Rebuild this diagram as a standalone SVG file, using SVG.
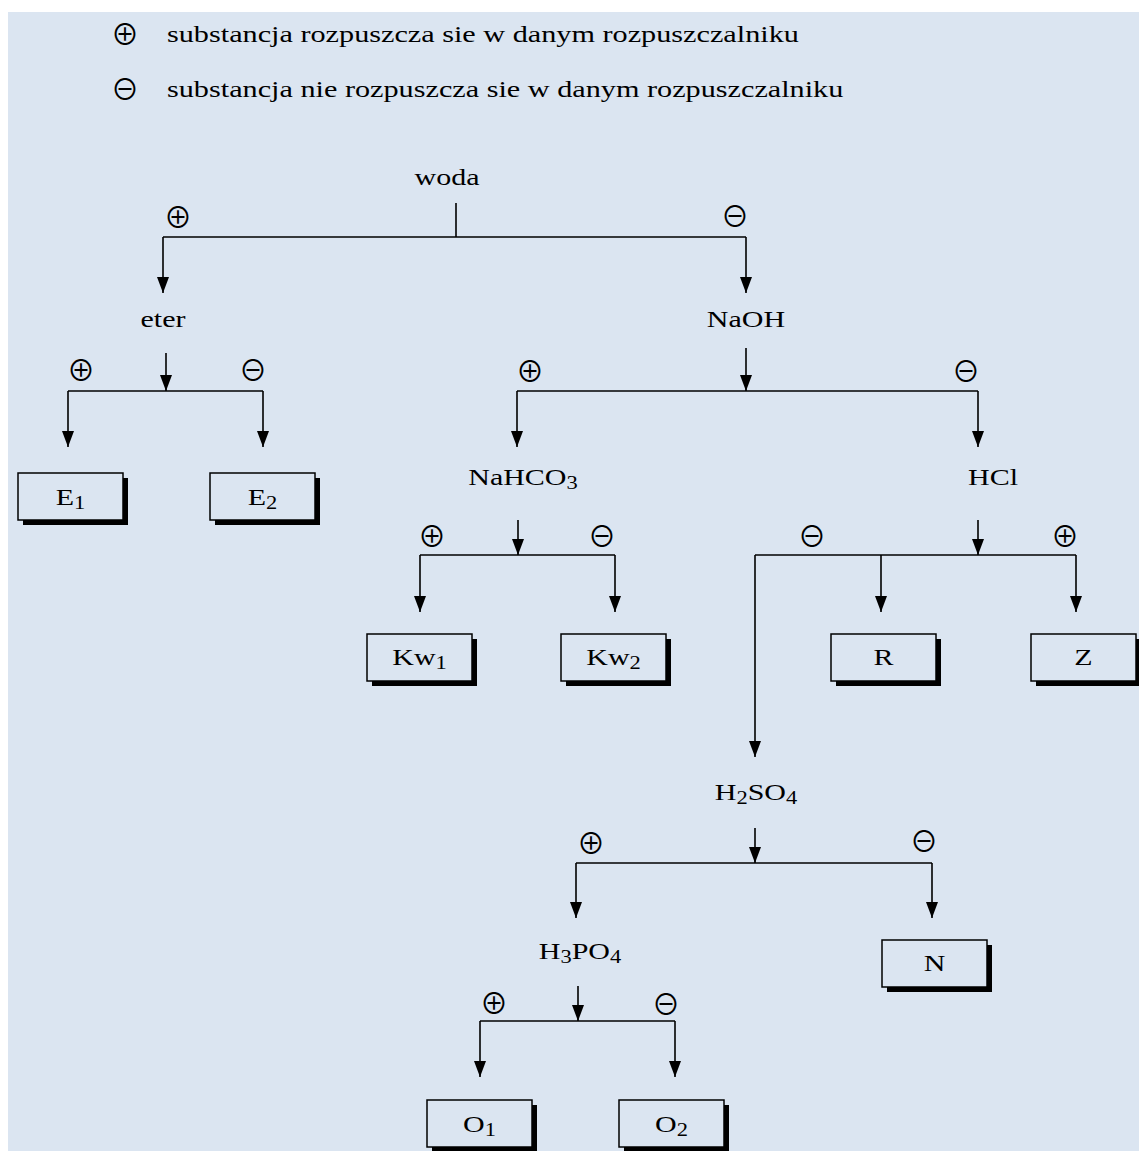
<svg xmlns="http://www.w3.org/2000/svg" width="1139" height="1151" viewBox="0 0 1139 1151">
<defs>
<marker id="ah" viewBox="0 0 16 12" refX="16" refY="6" markerWidth="16" markerHeight="12" markerUnits="userSpaceOnUse" orient="auto">
<path d="M0,0 L16,6 L0,12 z" fill="#000"/>
</marker>
</defs>
<style>
.t{font-family:"Liberation Serif","Times New Roman",serif;font-size:24px;fill:#000}
.c{text-anchor:middle}
.sub{font-size:18px}
.s{font-family:"Noto Sans CJK JP","DejaVu Sans",sans-serif;font-size:28px;text-anchor:middle;fill:#000}
.ln{fill:none;stroke:#000;stroke-width:1.6}
.ar{fill:none;stroke:#000;stroke-width:1.6;marker-end:url(#ah)}
.bx{fill:#dbe5f1;stroke:#000;stroke-width:1.5}
.sh{fill:#000}
</style>
<rect x="8" y="12" width="1131" height="1139" fill="#dbe5f1"/>
<g id="legend">
<text class="s" x="125" y="45">⊕</text>
<text class="t" transform="translate(167,42) scale(1.26,1)">substancja rozpuszcza sie w danym rozpuszczalniku</text>
<text class="s" x="125" y="100">⊖</text>
<text class="t" transform="translate(167,97) scale(1.26,1)">substancja nie rozpuszcza sie w danym rozpuszczalniku</text>
</g>
<g id="connectors">
<path class="ln" d="M456,203 V237 M163,237 H746"/>
<path class="ar" d="M163,237 V293"/>
<path class="ar" d="M746,237 V293"/>
<path class="ar" d="M166,353 V391"/>
<path class="ln" d="M68,391 H263"/>
<path class="ar" d="M68,391 V447"/>
<path class="ar" d="M263,391 V447"/>
<path class="ar" d="M746,348 V391"/>
<path class="ln" d="M517,391 H978"/>
<path class="ar" d="M517,391 V447"/>
<path class="ar" d="M978,391 V447"/>
<path class="ar" d="M518,520 V555"/>
<path class="ln" d="M420,555 H615"/>
<path class="ar" d="M420,555 V612"/>
<path class="ar" d="M615,555 V612"/>
<path class="ar" d="M978,520 V555"/>
<path class="ln" d="M755,555 H1076"/>
<path class="ar" d="M881,555 V612"/>
<path class="ar" d="M1076,555 V612"/>
<path class="ar" d="M755,555 V757"/>
<path class="ar" d="M755,828 V863"/>
<path class="ln" d="M576,863 H932"/>
<path class="ar" d="M576,863 V918"/>
<path class="ar" d="M932,863 V918"/>
<path class="ar" d="M578,986 V1021"/>
<path class="ln" d="M480,1021 H675"/>
<path class="ar" d="M480,1021 V1077"/>
<path class="ar" d="M675,1021 V1077"/>
</g>
<g id="signs">
<text class="s" x="178" y="228">⊕</text>
<text class="s" x="735" y="227">⊖</text>
<text class="s" x="81" y="381">⊕</text>
<text class="s" x="253" y="381">⊖</text>
<text class="s" x="530" y="382">⊕</text>
<text class="s" x="966" y="382">⊖</text>
<text class="s" x="432" y="547">⊕</text>
<text class="s" x="602" y="547">⊖</text>
<text class="s" x="812" y="547">⊖</text>
<text class="s" x="1065" y="547">⊕</text>
<text class="s" x="591" y="854">⊕</text>
<text class="s" x="924" y="852">⊖</text>
<text class="s" x="494" y="1014">⊕</text>
<text class="s" x="666" y="1015">⊖</text>
</g>
<g id="woda"><text class="t c" transform="translate(447,185) scale(1.25,1)">woda</text></g>
<g id="eter"><text class="t c" transform="translate(163,327) scale(1.25,1)">eter</text></g>
<g id="NaOH"><text class="t c" transform="translate(746,327) scale(1.25,1)">NaOH</text></g>
<g id="NaHCO3"><text class="t c" transform="translate(523,485) scale(1.25,1)">NaHCO<tspan class="sub" dy="4">3</tspan></text></g>
<g id="HCl"><text class="t c" transform="translate(993,485) scale(1.25,1)">HCl</text></g>
<g id="H2SO4"><text class="t c" transform="translate(756,800) scale(1.25,1)">H<tspan class="sub" dy="4">2</tspan><tspan dy="-4">SO</tspan><tspan class="sub" dy="4">4</tspan></text></g>
<g id="H3PO4"><text class="t c" transform="translate(580,959) scale(1.25,1)">H<tspan class="sub" dy="4">3</tspan><tspan dy="-4">PO</tspan><tspan class="sub" dy="4">4</tspan></text></g>
<g id="E1"><rect class="sh" x="23" y="478" width="105" height="47"/><rect class="bx" x="18" y="473" width="105" height="47"/><text class="t c" transform="translate(70.5,505) scale(1.25,1)">E<tspan class="sub" dy="4">1</tspan></text></g>
<g id="E2"><rect class="sh" x="215" y="478" width="105" height="47"/><rect class="bx" x="210" y="473" width="105" height="47"/><text class="t c" transform="translate(262.5,505) scale(1.25,1)">E<tspan class="sub" dy="4">2</tspan></text></g>
<g id="Kw1"><rect class="sh" x="372" y="639" width="105" height="47"/><rect class="bx" x="367" y="634" width="105" height="47"/><text class="t c" transform="translate(419.5,665) scale(1.25,1)">Kw<tspan class="sub" dy="4">1</tspan></text></g>
<g id="Kw2"><rect class="sh" x="566" y="639" width="105" height="47"/><rect class="bx" x="561" y="634" width="105" height="47"/><text class="t c" transform="translate(613.5,665) scale(1.25,1)">Kw<tspan class="sub" dy="4">2</tspan></text></g>
<g id="R"><rect class="sh" x="836" y="639" width="105" height="47"/><rect class="bx" x="831" y="634" width="105" height="47"/><text class="t c" transform="translate(883.5,665) scale(1.25,1)">R</text></g>
<g id="Z"><rect class="sh" x="1036" y="639" width="105" height="47"/><rect class="bx" x="1031" y="634" width="105" height="47"/><text class="t c" transform="translate(1083.5,665) scale(1.25,1)">Z</text></g>
<g id="N"><rect class="sh" x="887" y="945" width="105" height="47"/><rect class="bx" x="882" y="940" width="105" height="47"/><text class="t c" transform="translate(934.5,971) scale(1.25,1)">N</text></g>
<g id="O1"><rect class="sh" x="432" y="1105" width="105" height="47"/><rect class="bx" x="427" y="1100" width="105" height="47"/><text class="t c" transform="translate(479.5,1132) scale(1.25,1)">O<tspan class="sub" dy="4">1</tspan></text></g>
<g id="O2"><rect class="sh" x="624" y="1105" width="105" height="47"/><rect class="bx" x="619" y="1100" width="105" height="47"/><text class="t c" transform="translate(671.5,1132) scale(1.25,1)">O<tspan class="sub" dy="4">2</tspan></text></g>
</svg>
